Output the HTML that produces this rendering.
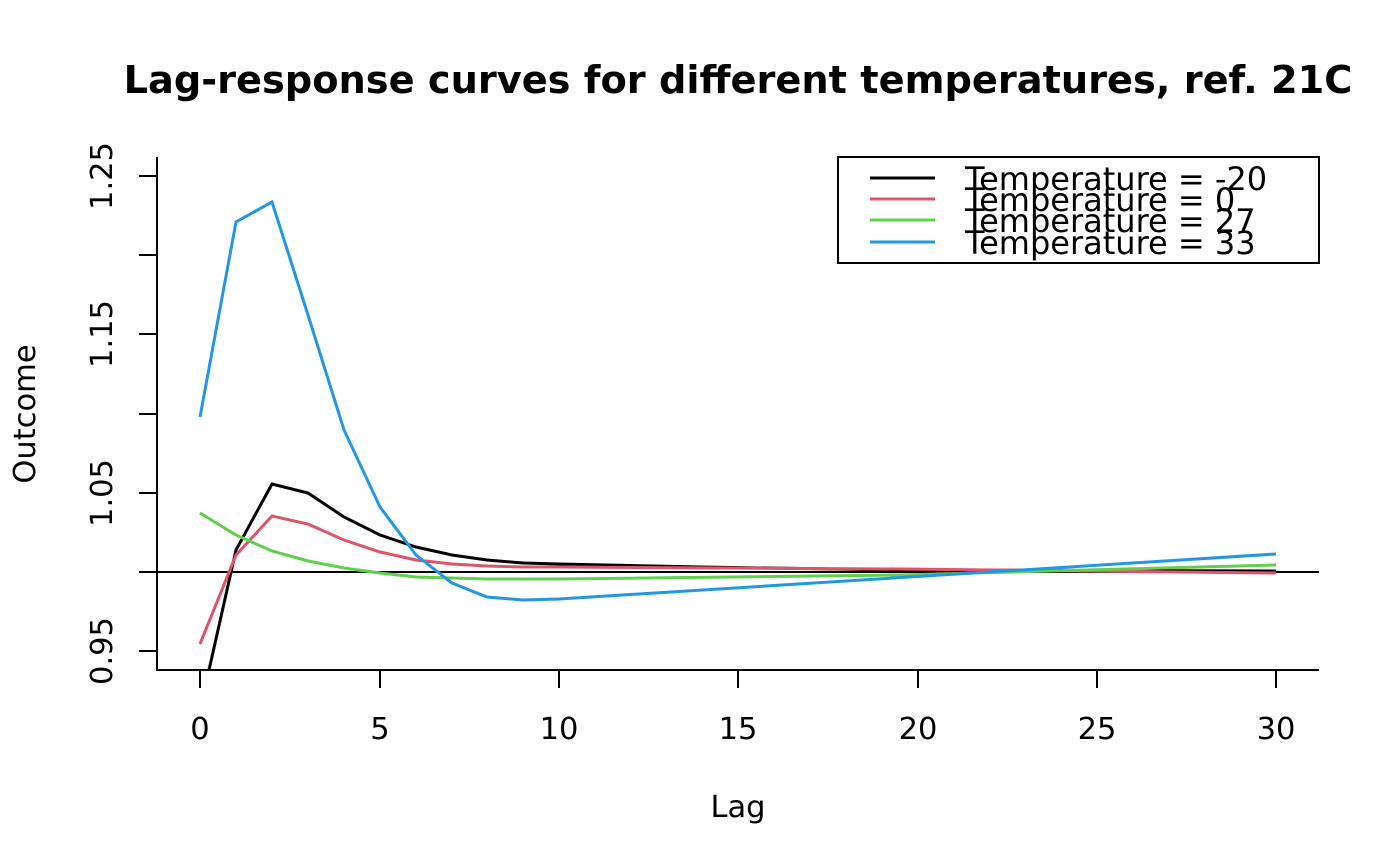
<!DOCTYPE html>
<html><head><style>body{margin:0;background:#fff}svg{display:block}text{font-family:"DejaVu Sans","Liberation Sans",sans-serif}</style></head>
<body>
<svg width="1400" height="866" viewBox="0 0 1400 866" xmlns="http://www.w3.org/2000/svg">
<defs><clipPath id="c"><rect x="157" y="157" width="1162" height="513"/></clipPath></defs>
<text x="738" y="93" text-anchor="middle" font-size="38.3" font-weight="bold">Lag-response curves for different temperatures, ref. 21C</text>
<path d="M157,157V670H1319" fill="none" stroke="#000" stroke-width="2"/>
<g stroke="#000" stroke-width="2">
<line x1="200" y1="670" x2="1276" y2="670"/>
<line x1="200" y1="670" x2="200" y2="688"/><line x1="380" y1="670" x2="380" y2="688"/><line x1="559" y1="670" x2="559" y2="688"/><line x1="738" y1="670" x2="738" y2="688"/><line x1="918" y1="670" x2="918" y2="688"/><line x1="1097" y1="670" x2="1097" y2="688"/><line x1="1276" y1="670" x2="1276" y2="688"/>
<line x1="157" y1="176" x2="139" y2="176"/><line x1="157" y1="255" x2="139" y2="255"/><line x1="157" y1="334" x2="139" y2="334"/><line x1="157" y1="414" x2="139" y2="414"/><line x1="157" y1="493" x2="139" y2="493"/><line x1="157" y1="572" x2="139" y2="572"/><line x1="157" y1="651" x2="139" y2="651"/>
</g>
<g font-size="30.5" text-anchor="middle">
<text x="200" y="739">0</text><text x="380" y="739">5</text><text x="559" y="739">10</text><text x="738" y="739">15</text><text x="918" y="739">20</text><text x="1097" y="739">25</text><text x="1276" y="739">30</text>
<text x="738" y="817">Lag</text>
<text transform="translate(112,176) rotate(-90)">1.25</text>
<text transform="translate(112,334) rotate(-90)">1.15</text>
<text transform="translate(112,493) rotate(-90)">1.05</text>
<text transform="translate(112,651) rotate(-90)">0.95</text>
<text transform="translate(35,414) rotate(-90)">Outcome</text>
</g>
<line x1="157" y1="572" x2="1319" y2="572" stroke="#000" stroke-width="2"/>
<g clip-path="url(#c)" fill="none" stroke-width="3">
<polyline stroke="#000" points="200,710 236,550 272,484 308,493 344,517 380,535 416,547 452,555 487,560 523,563 559,564 700,567 900,570 1276,571"/>
<polyline stroke="#DF536B" points="200,644 236,555 272,516 308,524 344,540 380,552 416,560 452,564 487,566 523,567 559,567 900,569 1276,573"/>
<polyline stroke="#61D04F" points="200,513 236,535 272,551 308,561 344,568 380,573 416,577 452,578 487,579 523,579 559,579 900,575 1276,565"/>
<polyline stroke="#2297E6" points="200,417 236,222 272,202 308,315 344,430 380,507 416,555 452,583 487,597 523,600 559,599 1276,554"/>
</g>
<rect x="838" y="157" width="481" height="106" fill="#fff" stroke="#000" stroke-width="2"/>
<g stroke-width="3">
<line x1="870" y1="178" x2="935" y2="178" stroke="#000"/>
<line x1="870" y1="199" x2="935" y2="199" stroke="#DF536B"/>
<line x1="870" y1="220" x2="935" y2="220" stroke="#61D04F"/>
<line x1="870" y1="242" x2="935" y2="242" stroke="#2297E6"/>
</g>
<g font-size="32">
<text x="965" y="190">Temperature = -20</text>
<text x="965" y="211">Temperature = 0</text>
<text x="965" y="232">Temperature = 27</text>
<text x="965" y="254">Temperature = 33</text>
</g>
</svg>
</body></html>
